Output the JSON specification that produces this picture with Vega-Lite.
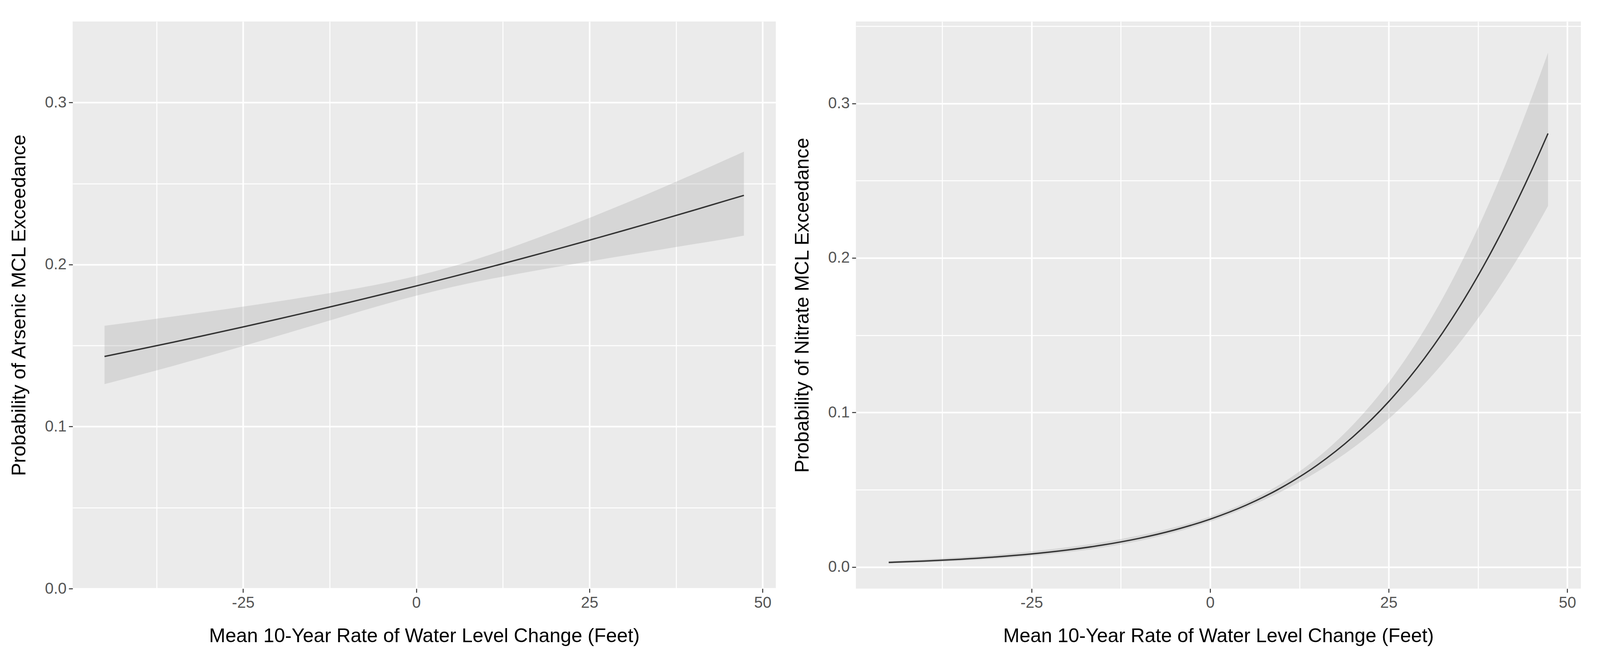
{
  "$schema": "https://vega.github.io/schema/vega-lite/v6.json",
  "background": "white",
  "padding": {"left": 24, "top": 46, "right": 10, "bottom": 20},
  "spacing": 43,
  "datasets": {
    "arsenic": [
      {"x": -45, "fit": 0.14329, "lo": 0.12623, "hi": 0.16221},
      {"x": -40, "fit": 0.14767, "lo": 0.13181, "hi": 0.16507},
      {"x": -35, "fit": 0.15216, "lo": 0.13757, "hi": 0.16799},
      {"x": -30, "fit": 0.15677, "lo": 0.14353, "hi": 0.17098},
      {"x": -25, "fit": 0.16148, "lo": 0.14965, "hi": 0.17406},
      {"x": -20, "fit": 0.16631, "lo": 0.15592, "hi": 0.17725},
      {"x": -15, "fit": 0.17126, "lo": 0.16230, "hi": 0.18060},
      {"x": -10, "fit": 0.17632, "lo": 0.16869, "hi": 0.18421},
      {"x": -5, "fit": 0.18150, "lo": 0.17494, "hi": 0.18823},
      {"x": 0, "fit": 0.18679, "lo": 0.18080, "hi": 0.19294},
      {"x": 5, "fit": 0.19221, "lo": 0.18599, "hi": 0.19857},
      {"x": 10, "fit": 0.19774, "lo": 0.19051, "hi": 0.20517},
      {"x": 15, "fit": 0.20339, "lo": 0.19454, "hi": 0.21253},
      {"x": 20, "fit": 0.20916, "lo": 0.19831, "hi": 0.22044},
      {"x": 25, "fit": 0.21505, "lo": 0.20193, "hi": 0.22878},
      {"x": 30, "fit": 0.22106, "lo": 0.20549, "hi": 0.23746},
      {"x": 35, "fit": 0.22719, "lo": 0.20902, "hi": 0.24645},
      {"x": 40, "fit": 0.23344, "lo": 0.21255, "hi": 0.25572},
      {"x": 45, "fit": 0.23980, "lo": 0.21608, "hi": 0.26525},
      {"x": 47.3, "fit": 0.24270, "lo": 0.21790, "hi": 0.26970}
    ],
    "nitrate": [
      {"x": -45, "fit": 0.00295, "lo": 0.00221, "hi": 0.00393},
      {"x": -40, "fit": 0.00383, "lo": 0.00295, "hi": 0.00497},
      {"x": -35, "fit": 0.00499, "lo": 0.00396, "hi": 0.00629},
      {"x": -30, "fit": 0.00649, "lo": 0.00529, "hi": 0.00796},
      {"x": -25, "fit": 0.00844, "lo": 0.00708, "hi": 0.01006},
      {"x": -20, "fit": 0.01097, "lo": 0.00945, "hi": 0.01272},
      {"x": -15, "fit": 0.01424, "lo": 0.01261, "hi": 0.01607},
      {"x": -10, "fit": 0.01847, "lo": 0.01679, "hi": 0.02031},
      {"x": -5, "fit": 0.02393, "lo": 0.02229, "hi": 0.02569},
      {"x": 0, "fit": 0.03095, "lo": 0.02939, "hi": 0.03259},
      {"x": 5, "fit": 0.03994, "lo": 0.03826, "hi": 0.04171},
      {"x": 10, "fit": 0.05142, "lo": 0.04888, "hi": 0.05408},
      {"x": 15, "fit": 0.06596, "lo": 0.06161, "hi": 0.07059},
      {"x": 20, "fit": 0.08425, "lo": 0.07707, "hi": 0.09203},
      {"x": 25, "fit": 0.10702, "lo": 0.09583, "hi": 0.11935},
      {"x": 30, "fit": 0.13505, "lo": 0.11848, "hi": 0.15354},
      {"x": 35, "fit": 0.16903, "lo": 0.14556, "hi": 0.19543},
      {"x": 40, "fit": 0.20949, "lo": 0.17753, "hi": 0.24549},
      {"x": 45, "fit": 0.25664, "lo": 0.21471, "hi": 0.30358},
      {"x": 47.3, "fit": 0.28053, "lo": 0.23363, "hi": 0.33276}
    ]
  },
  "config": {
    "font": "Liberation Sans",
    "view": {"fill": "#EBEBEB", "stroke": null},
    "axis": {
      "domain": false,
      "gridColor": "#FFFFFF",
      "gridOpacity": 1,
      "tickColor": "#333333",
      "tickWidth": 2.5,
      "tickSize": 10,
      "labelFont": "Liberation Sans",
      "labelFontSize": 40,
      "labelColor": "#555555",
      "titleFont": "Liberation Sans",
      "titleFontSize": 50,
      "titleFontWeight": "normal",
      "titleColor": "#000000",
      "labelOverlap": false,
      "labelFlush": false,
      "labelBound": false
    },
    "axisX": {"labelPadding": 6, "titlePadding": 40},
    "axisY": {"labelPadding": 6, "titlePadding": 40}
  },
  "hconcat": [
    {
      "width": 1800,
      "height": 1451,
      "data": {"name": "arsenic"},
      "encoding": {
        "x": {
          "field": "x",
          "type": "quantitative",
          "scale": {"domain": [-49.6, 51.9], "nice": false, "zero": false},
          "axis": {
            "title": "Mean 10-Year Rate of Water Level Change (Feet)",
            "values": [-37.5, -25, -12.5, 0, 12.5, 25, 37.5, 50],
            "labelExpr": "abs(datum.value) % 25 === 0 ? '' + datum.value : ''",
            "gridWidth": {"condition": {"test": "abs(datum.value) % 25 === 0", "value": 4}, "value": 2.5},
            "tickOpacity": {"condition": {"test": "abs(datum.value) % 25 === 0", "value": 1}, "value": 0}
          }
        }
      },
      "layer": [
        {
          "mark": {"type": "area", "interpolate": "monotone", "color": "#999999", "opacity": 0.25},
          "encoding": {
            "y": {
              "field": "lo",
              "type": "quantitative",
              "scale": {"domain": [0, 0.35], "nice": false, "zero": false},
              "axis": {
                "title": "Probability of Arsenic MCL Exceedance",
                "values": [0, 0.05, 0.1, 0.15, 0.2, 0.25, 0.3],
                "labelExpr": "round(datum.value * 100) % 10 === 0 ? format(datum.value, '.1f') : ''",
                "gridWidth": {"condition": {"test": "round(datum.value * 100) % 10 === 0", "value": 4}, "value": 2.5},
                "tickOpacity": {"condition": {"test": "round(datum.value * 100) % 10 === 0", "value": 1}, "value": 0}
              }
            },
            "y2": {"field": "hi"}
          }
        },
        {
          "mark": {"type": "line", "interpolate": "monotone", "color": "#333333", "strokeWidth": 3.5},
          "encoding": {
            "y": {
              "field": "fit",
              "type": "quantitative",
              "scale": {"domain": [0, 0.35], "nice": false, "zero": false},
              "axis": {
                "title": "Probability of Arsenic MCL Exceedance",
                "values": [0, 0.05, 0.1, 0.15, 0.2, 0.25, 0.3],
                "labelExpr": "round(datum.value * 100) % 10 === 0 ? format(datum.value, '.1f') : ''",
                "gridWidth": {"condition": {"test": "round(datum.value * 100) % 10 === 0", "value": 4}, "value": 2.5},
                "tickOpacity": {"condition": {"test": "round(datum.value * 100) % 10 === 0", "value": 1}, "value": 0}
              }
            }
          }
        }
      ]
    },
    {
      "width": 1856,
      "height": 1451,
      "data": {"name": "nitrate"},
      "encoding": {
        "x": {
          "field": "x",
          "type": "quantitative",
          "scale": {"domain": [-49.6, 51.9], "nice": false, "zero": false},
          "axis": {
            "title": "Mean 10-Year Rate of Water Level Change (Feet)",
            "values": [-37.5, -25, -12.5, 0, 12.5, 25, 37.5, 50],
            "labelExpr": "abs(datum.value) % 25 === 0 ? '' + datum.value : ''",
            "gridWidth": {"condition": {"test": "abs(datum.value) % 25 === 0", "value": 4}, "value": 2.5},
            "tickOpacity": {"condition": {"test": "abs(datum.value) % 25 === 0", "value": 1}, "value": 0}
          }
        }
      },
      "layer": [
        {
          "mark": {"type": "area", "interpolate": "monotone", "color": "#999999", "opacity": 0.25},
          "encoding": {
            "y": {
              "field": "lo",
              "type": "quantitative",
              "scale": {"domain": [-0.014, 0.353], "nice": false, "zero": false},
              "axis": {
                "title": "Probability of Nitrate MCL Exceedance",
                "values": [0, 0.05, 0.1, 0.15, 0.2, 0.25, 0.3, 0.35],
                "labelExpr": "round(datum.value * 100) % 10 === 0 ? format(datum.value, '.1f') : ''",
                "gridWidth": {"condition": {"test": "round(datum.value * 100) % 10 === 0", "value": 4}, "value": 2.5},
                "tickOpacity": {"condition": {"test": "round(datum.value * 100) % 10 === 0", "value": 1}, "value": 0}
              }
            },
            "y2": {"field": "hi"}
          }
        },
        {
          "mark": {"type": "line", "interpolate": "monotone", "color": "#333333", "strokeWidth": 3.5},
          "encoding": {
            "y": {
              "field": "fit",
              "type": "quantitative",
              "scale": {"domain": [-0.014, 0.353], "nice": false, "zero": false},
              "axis": {
                "title": "Probability of Nitrate MCL Exceedance",
                "values": [0, 0.05, 0.1, 0.15, 0.2, 0.25, 0.3, 0.35],
                "labelExpr": "round(datum.value * 100) % 10 === 0 ? format(datum.value, '.1f') : ''",
                "gridWidth": {"condition": {"test": "round(datum.value * 100) % 10 === 0", "value": 4}, "value": 2.5},
                "tickOpacity": {"condition": {"test": "round(datum.value * 100) % 10 === 0", "value": 1}, "value": 0}
              }
            }
          }
        }
      ]
    }
  ]
}
